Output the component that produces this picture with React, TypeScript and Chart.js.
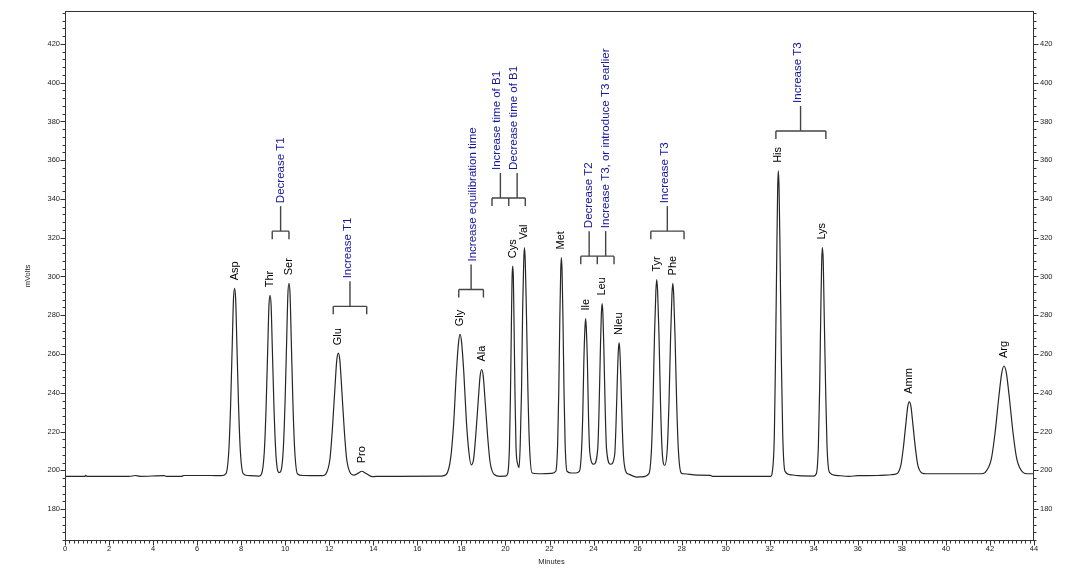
import React, { useEffect, useRef } from 'react';
import { Chart, registerables } from 'chart.js';

Chart.register(...registerables);

// ---- Trace (minutes, mVolts) ----
const traceTimes = [
  0, 0.9, 0.94, 1.0, 2.9, 3.2, 3.4, 4.5, 4.6, 5.3, 5.4, 6.6, 7.1,
  7.31, 7.44, 7.52, 7.6, 7.65, 7.7, 7.75, 7.8, 7.88, 7.96, 8.09, 8.3, 8.8,
  8.92, 9.05, 9.13, 9.21, 9.26, 9.31, 9.36, 9.41, 9.49, 9.57, 9.64, 9.72, 9.8,
  9.91, 9.99, 10.07, 10.12, 10.17, 10.22, 10.27, 10.35, 10.43, 10.56, 10.8, 11.7,
  11.84, 12.03, 12.14, 12.26, 12.34, 12.41, 12.48, 12.56, 12.68, 12.79, 12.98, 13.12,
  13.3, 13.48, 13.65, 13.95, 14.3, 15.1, 17.1,
  17.31, 17.52, 17.65, 17.77, 17.87, 17.94, 18.01, 18.11, 18.23, 18.34, 18.44,
  18.55, 18.65, 18.77, 18.85, 18.92, 18.99, 19.07, 19.19, 19.3, 19.49, 19.75, 20.0,
  20.1, 20.18, 20.225, 20.27, 20.3, 20.33, 20.36, 20.39, 20.435, 20.48, 20.56, 20.62,
  20.67, 20.73, 20.78, 20.83, 20.86, 20.9, 20.95, 21.02, 21.09, 21.21, 21.5, 22.1,
  22.285, 22.37, 22.42, 22.47, 22.51, 22.54, 22.57, 22.61, 22.66, 22.71, 22.795, 23.0, 23.2,
  23.355, 23.45, 23.51, 23.56, 23.61, 23.64, 23.67, 23.72, 23.77, 23.83, 24.01,
  24.19, 24.25, 24.31, 24.355, 24.39, 24.425, 24.47, 24.53, 24.59, 24.77,
  24.96, 25.02, 25.08, 25.125, 25.16, 25.195, 25.24, 25.3, 25.36, 25.48, 25.6, 25.96, 26.2,
  26.51, 26.63, 26.7, 26.77, 26.83, 26.87, 26.91, 26.97, 27.04, 27.11, 27.23,
  27.35, 27.425, 27.5, 27.56, 27.6, 27.64, 27.7, 27.775, 27.85, 27.98, 28.1, 28.7, 29.3, 29.4, 32.05,
  32.11, 32.21, 32.26, 32.32, 32.36, 32.39, 32.425, 32.47, 32.53, 32.59, 32.69, 32.9, 33.3, 34.0,
  34.12, 34.21, 34.265, 34.32, 34.36, 34.39, 34.43, 34.47, 34.54, 34.6, 34.71, 35.0, 35.6, 36.0, 36.9, 37.5,
  37.77, 37.96, 38.07, 38.19, 38.27, 38.34, 38.41, 38.49, 38.61, 38.72, 38.91, 39.1, 41.6,
  41.77, 42.06, 42.23, 42.41, 42.54, 42.64, 42.74, 42.87, 43.05, 43.22, 43.51, 43.7, 44,
];
const traceMv = [
  196.8, 196.8, 197.4, 196.8, 196.8, 197.3, 196.9, 197.2, 196.8, 196.9, 197.3, 197.3, 197.2,
  198.3, 210.3, 233.5, 267.4, 288.2, 293.9, 288.2, 267.4, 233.5, 210.3, 198.3, 197.3, 197.0,
  198.0, 209.6, 232.0, 264.7, 284.8, 290.3, 284.8, 264.7, 232.0, 209.6, 200.8, 198.8, 199.5,
  210.5, 234.3, 269.2, 290.6, 296.5, 290.6, 269.2, 234.3, 210.5, 198.1, 197.3, 197.2,
  198.0, 205.8, 221.0, 243.1, 256.7, 260.4, 256.7, 243.1, 221.0, 205.8, 198.2, 197.5,
  198.4, 199.5, 198.5, 196.7, 196.9, 196.9, 197.0,
  197.8, 206.9, 224.5, 250.2, 265.9, 270.2, 265.9, 250.2, 224.6, 209.4, 202.8,
  205.5, 217.8, 236.9, 248.7, 252.0, 248.7, 236.9, 217.6, 204.4, 197.8, 196.9, 197.0,
  198.2, 211.7, 237.6, 275.6, 298.9, 305.3, 298.9, 275.6, 237.6, 211.7, 203.0, 201.4,
  213.0, 241.2, 282.6, 307.9, 314.9, 307.9, 282.6, 241.2, 213.0, 198.6, 198.2, 198.4,
  199.5, 213.4, 240.1, 279.3, 303.2, 309.8, 303.2, 279.3, 240.1, 213.4, 199.5, 198.6, 198.6,
  199.4, 209.3, 228.4, 256.4, 273.6, 278.3, 273.6, 256.4, 228.4, 209.3, 203.1,
  211.0, 231.3, 262.0, 280.8, 286.0, 280.8, 262.0, 231.3, 211.0, 203.1,
  208.0, 223.6, 247.2, 261.7, 265.7, 261.7, 247.2, 223.6, 207.4, 199.0, 198.0, 196.5, 196.6,
  198.1, 210.7, 235.1, 270.6, 292.4, 298.4, 292.4, 270.6, 235.1, 211.0, 202.6,
  211.5, 234.6, 269.3, 290.5, 296.4, 290.5, 269.3, 234.6, 210.9, 198.6, 198.2, 197.5, 197.4, 196.9, 196.9,
  198.6, 218.2, 256.0, 311.3, 345.1, 354.5, 345.1, 311.3, 256.0, 218.2, 199.6, 197.8, 197.2, 197.0,
  198.3, 213.0, 241.3, 282.7, 308.0, 314.9, 308.0, 282.7, 241.3, 213.0, 198.9, 197.4, 196.9, 197.2, 197.3, 197.7,
  198.2, 202.9, 211.9, 225.0, 233.1, 235.3, 233.1, 225.0, 211.9, 202.9, 198.6, 198.2, 198.2,
  198.8, 205.7, 219.1, 238.6, 250.5, 253.8, 250.5, 238.6, 219.1, 205.7, 198.8, 198.2, 198.2,
];

// ---- Peak labels ----
const peakNames = ['Asp', 'Thr', 'Ser', 'Glu', 'Pro', 'Gly', 'Ala', 'Cys', 'Val', 'Met', 'Ile', 'Leu', 'Nleu', 'Tyr', 'Phe', 'His', 'Lys', 'Amm', 'Arg'];
const peakTimes = [7.7, 9.31, 10.17, 12.41, 13.48, 17.94, 18.92, 20.33, 20.86, 22.54, 23.64, 24.39, 25.16, 26.87, 27.6, 32.39, 34.39, 38.34, 42.64];
const peakMv = [293.9, 290.3, 296.5, 260.4, 199.5, 270.2, 252.0, 305.3, 314.9, 309.8, 278.3, 286.0, 265.7, 298.4, 296.4, 354.5, 314.9, 235.3, 253.8];

// ---- Brackets (leg times) and their bar level (mV) ----
const bracketLegs = [
  [9.41, 10.17],
  [12.18, 13.7],
  [17.88, 19.0],
  [19.39, 20.15, 20.9],
  [23.42, 24.17, 24.93],
  [26.6, 28.11],
  [32.28, 34.55],
];
const bracketLevels = [323.4, 284.6, 293.3, 340.5, 310.5, 323.4, 375.1];

// ---- Blue notes ----
const noteTexts = [
  'Decrease T1',
  'Increase T1',
  'Increase equilibration time',
  'Increase time of B1',
  'Decrease time of B1',
  'Decrease T2',
  'Increase T3, or introduce T3 earlier',
  'Increase T3',
  'Increase T3',
];
const noteBracket = [0, 1, 2, 3, 3, 4, 4, 5, 6];
const noteStemTimes = [9.79, 12.94, 18.44, 19.77, 20.53, 23.8, 24.55, 27.35, 33.4];
const noteTextTimes = [9.78, 12.82, 18.54, 19.6, 20.36, 23.8, 24.55, 27.25, 33.29];

// ---- Axis ticks ----
const xTickValues = [0, 2, 4, 6, 8, 10, 12, 14, 16, 18, 20, 22, 24, 26, 28, 30, 32, 34, 36, 38, 40, 42, 44];
const yTickValues = [180, 200, 220, 240, 260, 280, 300, 320, 340, 360, 380, 400, 420];
const X_MIN = 0, X_MAX = 44, Y_MIN = 163.5, Y_MAX = 437;
const X_MINOR = 0.2, Y_MINOR = 4;

const FONT = "'Liberation Sans', Arial, sans-serif";
const AXIS_COLOR = '#333333';
const BLUE = '#16169c';

const annotPlugin = {
  id: 'chromAnnot',
  afterDraw(chart: any) {
    const { ctx, chartArea: ca, scales } = chart;
    const xs = scales.x, ys = scales.y;
    ctx.save();
    // frame
    ctx.strokeStyle = AXIS_COLOR;
    ctx.lineWidth = 1;
    ctx.strokeRect(Math.round(ca.left) + 0.5, Math.round(ca.top) + 0.5, Math.round(ca.right - ca.left) - 1, Math.round(ca.bottom - ca.top) - 1);

    // ticks
    ctx.beginPath();
    const bottom = Math.round(ca.bottom) - 0.5;
    const nx = Math.round((X_MAX - X_MIN) / X_MINOR);
    for (let i = 0; i <= nx; i++) {
      const v = X_MIN + i * X_MINOR;
      const px = Math.round(xs.getPixelForValue(v)) + 0.5;
      const len = i % 10 === 0 ? 5 : 3;
      ctx.moveTo(px, bottom);
      ctx.lineTo(px, bottom + len);
    }
    const left = Math.round(ca.left) + 0.5;
    const right = Math.round(ca.right) - 0.5;
    for (let v = 164; v <= Y_MAX; v += Y_MINOR) {
      const py = Math.round(ys.getPixelForValue(v)) + 0.5;
      const len = v % 20 === 0 ? 5 : 3;
      ctx.moveTo(left, py);
      ctx.lineTo(left - len, py);
      ctx.moveTo(right, py);
      ctx.lineTo(right + len, py);
    }
    ctx.stroke();

    // axis titles
    ctx.fillStyle = '#222';
    ctx.font = `7.5px ${FONT}`;
    ctx.textAlign = 'center';
    ctx.textBaseline = 'middle';
    ctx.fillText('Minutes', (ca.left + ca.right) / 2 + 2, 562);
    ctx.save();
    ctx.translate(28, (ca.top + ca.bottom) / 2);
    ctx.rotate(-Math.PI / 2);
    ctx.fillText('mVolts', 0, 0);
    ctx.restore();

    // peak labels
    ctx.fillStyle = '#000';
    ctx.font = `11px ${FONT}`;
    ctx.textAlign = 'left';
    ctx.textBaseline = 'middle';
    peakNames.forEach((name, i) => {
      const px = xs.getPixelForValue(peakTimes[i]);
      const py = ys.getPixelForValue(peakMv[i]) - 8;
      ctx.save();
      ctx.translate(px, py);
      ctx.rotate(-Math.PI / 2);
      ctx.fillText(name, 0, 0);
      ctx.restore();
    });

    // brackets
    ctx.strokeStyle = '#444';
    ctx.lineWidth = 1.4;
    const LEG = 8, STEM = 25;
    bracketLegs.forEach((legs, b) => {
      const by = ys.getPixelForValue(bracketLevels[b]);
      const xsPix = legs.map((t) => xs.getPixelForValue(t));
      ctx.beginPath();
      ctx.moveTo(xsPix[0], by);
      ctx.lineTo(xsPix[xsPix.length - 1], by);
      xsPix.forEach((lx) => {
        ctx.moveTo(lx, by);
        ctx.lineTo(lx, by + LEG);
      });
      ctx.stroke();
    });

    // notes
    ctx.font = `11.5px ${FONT}`;
    noteTexts.forEach((txt, k) => {
      const by = ys.getPixelForValue(bracketLevels[noteBracket[k]]);
      const sx = xs.getPixelForValue(noteStemTimes[k]);
      ctx.beginPath();
      ctx.moveTo(sx, by);
      ctx.lineTo(sx, by - STEM);
      ctx.stroke();
      const tx = xs.getPixelForValue(noteTextTimes[k]);
      ctx.save();
      ctx.translate(tx, by - STEM - 3);
      ctx.rotate(-Math.PI / 2);
      ctx.fillStyle = BLUE;
      ctx.fillText(txt, 0, 0);
      ctx.restore();
    });
    ctx.restore();
  },
};

export default function App() {
  const ref = useRef<HTMLCanvasElement>(null);
  useEffect(() => {
    document.body.style.margin = '0';
    const canvas = ref.current;
    if (!canvas) return;
    const tickFont = { family: FONT, size: 7.5 };
    const chart = new Chart(canvas, {
      type: 'line',
      data: {
        datasets: [
          {
            data: traceTimes.map((t, i) => ({ x: t, y: traceMv[i] })),
            borderColor: '#262626',
            borderWidth: 1.2,
            pointRadius: 0,
            fill: false,
            cubicInterpolationMode: 'monotone',
          },
        ],
      },
      options: {
        responsive: false,
        animation: false,
        events: [],
        layout: { padding: { top: 11, left: 0, right: 0, bottom: 0 } },
        plugins: { legend: { display: false }, tooltip: { enabled: false } },
        scales: {
          x: {
            type: 'linear',
            position: 'bottom',
            min: X_MIN,
            max: X_MAX,
            afterBuildTicks: (s: any) => { s.ticks = xTickValues.map((v) => ({ value: v })); },
            afterFit: (s: any) => { s.height = 33; },
            grid: { display: false, drawTicks: false },
            border: { display: false },
            ticks: { padding: 3, font: tickFont, color: '#222', maxRotation: 0, autoSkip: false, callback: (v: any) => String(v) },
          },
          y: {
            type: 'linear',
            position: 'left',
            min: Y_MIN,
            max: Y_MAX,
            afterBuildTicks: (s: any) => { s.ticks = yTickValues.map((v) => ({ value: v })); },
            afterFit: (s: any) => { s.width = 65; },
            grid: { display: false, drawTicks: false },
            border: { display: false },
            ticks: { padding: 5, font: tickFont, color: '#222', autoSkip: false, callback: (v: any) => String(v) },
          },
          y2: {
            type: 'linear',
            position: 'right',
            min: Y_MIN,
            max: Y_MAX,
            afterBuildTicks: (s: any) => { s.ticks = yTickValues.map((v) => ({ value: v })); },
            afterFit: (s: any) => { s.width = 33; },
            grid: { display: false, drawTicks: false },
            border: { display: false },
            ticks: { padding: 6, font: tickFont, color: '#222', autoSkip: false, callback: (v: any) => String(v) },
          },
        },
      } as any,
      plugins: [annotPlugin],
    });
    return () => chart.destroy();
  }, []);
  return (
    <div style={{ position: 'fixed', left: 0, top: 0, width: 1067, height: 574, background: '#fff' }}>
      <canvas ref={ref} width={1067} height={574} style={{ display: 'block' }} />
    </div>
  );
}
